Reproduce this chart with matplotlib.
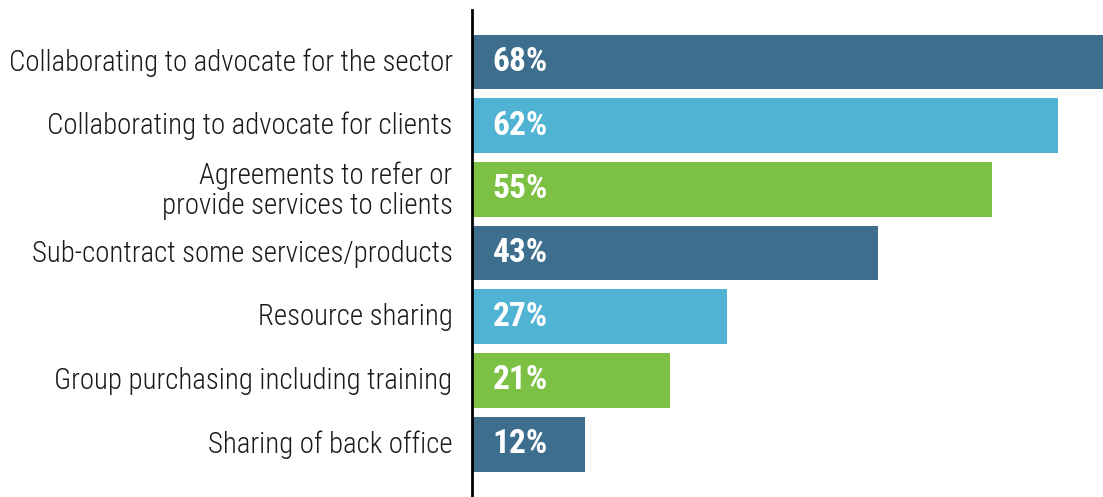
import matplotlib
matplotlib.use("Agg")
import matplotlib.pyplot as plt
import matplotlib.transforms as mtransforms
import numpy as np

# ── Data
categories = [
    "Collaborating to advocate for the sector",
    "Collaborating to advocate for clients",
    "Agreements to refer or\nprovide services to clients",
    "Sub-contract some services/products",
    "Resource sharing",
    "Group purchasing including training",
    "Sharing of back office",
]
values = [68, 62, 55, 43, 27, 21, 12]
colors = ["#3d6e8e", "#50b3d4", "#7cc144", "#3d6e8e", "#50b3d4", "#7cc144", "#3d6e8e"]

plt.rcParams["font.family"] = ["Roboto Condensed", "Liberation Sans", "DejaVu Sans"]

fig = plt.figure(figsize=(11.03, 4.97), dpi=100)
ax = fig.add_axes([472 / 1103, 0.0, 1 - 472 / 1103, 1 - 10 / 497])

y = np.arange(len(categories))
ax.barh(y, values, height=0.86, color=colors)

for yi, v in zip(y, values):
    ax.text(2.2, yi, f"{v}%", color="white", fontsize=24, fontweight="bold",
            va="center", ha="left")

ax.set_xlim(0, (1103 - 472) / 9.45)
ax.set_ylim(6.83, -0.816)
ax.set_yticks(y)
ax.set_yticklabels(categories, fontsize=20.8, color="#1a1a1a", linespacing=1.08,
                   fontweight="light")
ax.tick_params(axis="y", length=0, pad=14)

# nudge labels up a couple of pixels
shift = mtransforms.ScaledTranslation(0, 2.5 / 100, fig.dpi_scale_trans)
for lbl in ax.get_yticklabels():
    lbl.set_transform(lbl.get_transform() + shift)
ax.set_xticks([])

for s in ["top", "right", "bottom"]:
    ax.spines[s].set_visible(False)
ax.spines["left"].set_linewidth(2)
ax.spines["left"].set_color("black")

fig.savefig("out.png", dpi=100)
